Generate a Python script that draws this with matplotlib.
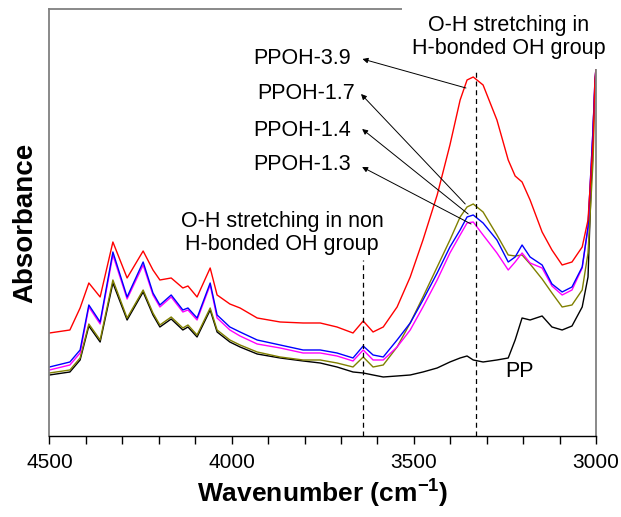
import matplotlib
matplotlib.use("Agg")
import matplotlib.pyplot as plt
from matplotlib.ticker import MultipleLocator

plt.rcParams["font.family"] = ["Liberation Sans", "DejaVu Sans"]
plt.rcParams["mathtext.fontset"] = "custom"
plt.rcParams["mathtext.rm"] = "Liberation Sans"
plt.rcParams["mathtext.bf"] = "Liberation Sans:bold"

# ── Data ──────────────────────────────────────────────────────────────────────
wavenumber = [4500, 4444, 4416, 4392, 4361, 4326, 4287, 4243, 4216, 4197,
              4166, 4134, 4120, 4095, 4059, 4040, 4005, 3977, 3930, 3867,
              3804, 3757, 3711, 3667, 3639, 3612, 3584, 3546, 3510, 3475,
              3436, 3401, 3373, 3354, 3337, 3310, 3272, 3241, 3222, 3203,
              3181, 3148, 3121, 3093, 3066, 3038, 3022, 3008, 3003, 3000]

pp = [0.061, 0.064, 0.076, 0.110, 0.094, 0.153, 0.116, 0.144, 0.121, 0.109,
      0.117, 0.106, 0.109, 0.099, 0.126, 0.104, 0.094, 0.089, 0.082, 0.078,
      0.075, 0.073, 0.069, 0.064, 0.063, 0.061, 0.059, 0.060, 0.061, 0.064,
      0.068, 0.074, 0.078, 0.080, 0.076, 0.074, 0.076, 0.078, 0.096, 0.118,
      0.116, 0.120, 0.109, 0.106, 0.110, 0.129, 0.159, 0.309, 0.349, 0.366]

ppoh_17 = [0.063, 0.066, 0.078, 0.112, 0.096, 0.156, 0.118, 0.146, 0.123, 0.111,
           0.119, 0.108, 0.111, 0.101, 0.128, 0.106, 0.096, 0.091, 0.084, 0.079,
           0.076, 0.076, 0.073, 0.069, 0.079, 0.069, 0.071, 0.089, 0.113, 0.139,
           0.169, 0.196, 0.219, 0.229, 0.232, 0.224, 0.201, 0.181, 0.180, 0.181,
           0.172, 0.157, 0.143, 0.129, 0.131, 0.146, 0.183, 0.276, 0.349, 0.366]

ppoh_13 = [0.066, 0.071, 0.083, 0.129, 0.112, 0.181, 0.137, 0.171, 0.141, 0.129,
           0.139, 0.124, 0.126, 0.116, 0.151, 0.118, 0.106, 0.100, 0.092, 0.088,
           0.083, 0.083, 0.080, 0.075, 0.086, 0.076, 0.076, 0.089, 0.106, 0.129,
           0.156, 0.183, 0.201, 0.213, 0.214, 0.201, 0.183, 0.166, 0.174, 0.183,
           0.173, 0.168, 0.150, 0.141, 0.146, 0.168, 0.208, 0.309, 0.356, 0.368]

ppoh_14 = [0.069, 0.074, 0.086, 0.131, 0.114, 0.184, 0.139, 0.174, 0.143, 0.131,
           0.141, 0.126, 0.128, 0.118, 0.153, 0.121, 0.109, 0.104, 0.096, 0.091,
           0.086, 0.086, 0.083, 0.078, 0.090, 0.081, 0.079, 0.096, 0.113, 0.136,
           0.163, 0.189, 0.206, 0.219, 0.221, 0.213, 0.196, 0.174, 0.179, 0.191,
           0.179, 0.171, 0.152, 0.144, 0.149, 0.169, 0.209, 0.309, 0.356, 0.368]

ppoh_39 = [0.103, 0.106, 0.128, 0.153, 0.139, 0.194, 0.158, 0.185, 0.166, 0.156,
           0.158, 0.148, 0.150, 0.139, 0.168, 0.141, 0.132, 0.128, 0.118, 0.114,
           0.113, 0.113, 0.109, 0.103, 0.115, 0.104, 0.109, 0.129, 0.159, 0.196,
           0.241, 0.291, 0.336, 0.356, 0.359, 0.351, 0.316, 0.276, 0.260, 0.254,
           0.236, 0.204, 0.186, 0.171, 0.174, 0.189, 0.216, 0.296, 0.356, 0.368]

# drawing order: PP at the back, PPOH-3.9 on top
SERIES = [
    (pp,      "#000000"),
    (ppoh_17, "#808000"),
    (ppoh_13, "#FF00FF"),
    (ppoh_14, "#0000FF"),
    (ppoh_39, "#FF0000"),
]

# label text, label anchor (wn, abs), arrow tail on the curve (wn, abs)
LABELS = ["PPOH-3.9", "PPOH-1.7", "PPOH-1.4", "PPOH-1.3"]
LABEL_POS = [(3672, 0.377), (3662, 0.342), (3672, 0.305), (3672, 0.271)]
ARROW_HEAD = [(3641, 0.377), (3645, 0.342), (3642, 0.307), (3642, 0.269)]
ARROW_TAIL = [(3357, 0.348), (3359, 0.232), (3351, 0.222), (3343, 0.212)]

NON_HBOND_WN = 3640
HBOND_WN = 3330

# ── Plot ──────────────────────────────────────────────────────────────────────
fig = plt.figure(figsize=(6.21, 5.17), dpi=100)
ax = fig.add_axes([0.0797, 0.1567, 0.8801, 0.8259])

for values, color in SERIES:
    ax.plot(wavenumber, values, color=color, lw=1.0)

ax.set_xlim(4500, 3000)
ax.set_ylim(0, 0.427)

dash = (0, (4, 3))
ax.plot([NON_HBOND_WN, NON_HBOND_WN], [0, 0.176], color="black", lw=0.9, ls=dash)
ax.plot([HBOND_WN, HBOND_WN], [0, 0.427], color="black", lw=0.9, ls=dash)

for label, pos, head, tail in zip(LABELS, LABEL_POS, ARROW_HEAD, ARROW_TAIL):
    ax.text(pos[0], pos[1], label, ha="right", va="center", fontsize=15.5)
    ax.annotate("", xy=head, xytext=tail,
                arrowprops=dict(arrowstyle="-|>", color="black", lw=0.7,
                                mutation_scale=8, shrinkA=0, shrinkB=0))

ax.text(3240, 0.399, "O-H stretching in\nH-bonded OH group",
        ha="center", va="center", fontsize=15.5, linespacing=1.15,
        bbox=dict(facecolor="white", edgecolor="none", pad=7), zorder=5)
ax.text(3862, 0.203, "O-H stretching in non\nH-bonded OH group",
        ha="center", va="center", fontsize=15.5, linespacing=1.15)
ax.text(3211, 0.0645, "PP", ha="center", va="center", fontsize=15.5)

# axes styling
for side in ("left", "top", "right"):
    ax.spines[side].set_color("#808080")
    ax.spines[side].set_linewidth(1.3)
ax.spines["bottom"].set_color("black")
ax.spines["bottom"].set_linewidth(1.0)

ax.xaxis.set_major_locator(MultipleLocator(500))
ax.xaxis.set_minor_locator(MultipleLocator(100))
ax.tick_params(axis="x", which="both", direction="out", length=6, width=1.0,
               labelsize=15, pad=6)
ax.set_yticks([])

ax.set_xlabel(r"Wavenumber (cm$^{\mathbf{-1}}$)", fontsize=19,
              fontweight="bold", labelpad=3)
ax.set_ylabel("Absorbance", fontsize=20, fontweight="bold", labelpad=8)

fig.savefig("out.png", dpi=100)
